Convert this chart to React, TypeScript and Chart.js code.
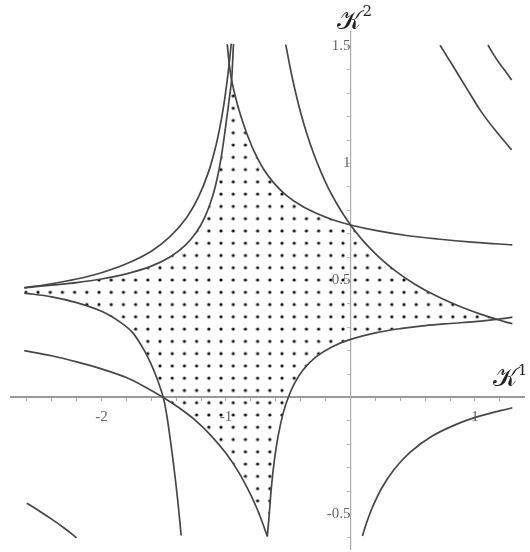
import { useEffect, useRef } from 'react';
import { Chart, registerables } from 'chart.js';

Chart.register(...registerables);

type Pt = [number, number];

// ---- boundary arcs of the dotted region (traversed clockwise) ----
const innerLeftArc: Pt[] = [
  [-2.62, 0.468], [-2.4, 0.48], [-2.2, 0.491], [-2.0, 0.506], [-1.8, 0.528], [-1.6, 0.561],
  [-1.45, 0.6], [-1.33, 0.649], [-1.24, 0.705], [-1.17, 0.771], [-1.11, 0.856], [-1.07, 0.938],
  [-1.04, 1.022], [-1.015, 1.11], [-0.995, 1.19], [-0.975, 1.27], [-0.955, 1.357],
];
const upperRightArc: Pt[] = [
  [-0.955, 1.357], [-0.915, 1.265], [-0.87, 1.185], [-0.82, 1.11], [-0.77, 1.047], [-0.7, 0.977],
  [-0.62, 0.919], [-0.52, 0.866], [-0.4, 0.821], [-0.27, 0.786], [-0.13, 0.757], [0, 0.737],
];
const steepArc: Pt[] = [
  [0, 0.737], [0.1, 0.67], [0.22, 0.604], [0.36, 0.541], [0.52, 0.483], [0.7, 0.431],
  [0.9, 0.384], [1.05, 0.355], [1.174, 0.334],
];
const lowerRightArc: Pt[] = [
  [1.174, 0.334], [1.0, 0.324], [0.8, 0.316], [0.6, 0.307], [0.4, 0.294], [0.2, 0.276],
  [0.0, 0.248], [-0.15, 0.216], [-0.28, 0.172], [-0.38, 0.118], [-0.45, 0.06], [-0.5, 0.0],
  [-0.54, -0.066], [-0.58, -0.161], [-0.61, -0.263], [-0.635, -0.382], [-0.655, -0.515],
  [-0.668, -0.594],
];
const lowerLeftSteepArc: Pt[] = [
  [-0.668, -0.594], [-0.71, -0.531], [-0.76, -0.464], [-0.82, -0.396], [-0.9, -0.318],
  [-1.0, -0.239], [-1.12, -0.163], [-1.25, -0.096], [-1.38, -0.043], [-1.504, 0],
];
const lowerLeftArc: Pt[] = [
  [-1.504, 0], [-1.557, 0.085], [-1.6, 0.14], [-1.65, 0.195], [-1.75, 0.277], [-1.85, 0.322],
  [-2.0, 0.368], [-2.2, 0.405], [-2.4, 0.43], [-2.62, 0.446],
];

// ---- continuations of the same curves outside the region ----
const innerLeftTail: Pt[] = [[-0.955, 1.357], [-0.947, 1.43], [-0.94, 1.51]];
const upperRightHead: Pt[] = [[-0.99, 1.51], [-0.975, 1.43], [-0.955, 1.357]];
const upperRightTail: Pt[] = [[0, 0.737], [0.2, 0.714], [0.45, 0.692], [0.7, 0.677], [1.0, 0.663], [1.3, 0.652]];
const steepHead: Pt[] = [
  [-0.52, 1.508], [-0.48, 1.397], [-0.44, 1.301], [-0.4, 1.217], [-0.35, 1.126], [-0.3, 1.048],
  [-0.24, 0.967], [-0.18, 0.897], [-0.1, 0.819], [-0.05, 0.776], [0, 0.737],
];
const steepTail: Pt[] = [[1.174, 0.334], [1.25, 0.322], [1.3, 0.315]];
const lowerRightHead: Pt[] = [[1.3, 0.343], [1.24, 0.338], [1.174, 0.334]];
const lowerLeftSteepTail: Pt[] = [
  [-1.504, 0], [-1.65, 0.045], [-1.8, 0.085], [-2.0, 0.122], [-2.2, 0.152], [-2.4, 0.178], [-2.62, 0.2],
];
const lowerLeftDrop: Pt[] = [
  [-1.36, -0.59], [-1.38, -0.48], [-1.4, -0.38], [-1.425, -0.27], [-1.45, -0.17], [-1.476, -0.075], [-1.504, 0],
];

// ---- separate curves ----
const outerLeftCurve: Pt[] = [
  [-2.62, 0.469], [-2.4, 0.486], [-2.2, 0.506], [-2.0, 0.533], [-1.8, 0.571], [-1.6, 0.625],
  [-1.45, 0.687], [-1.32, 0.766], [-1.22, 0.858], [-1.14, 0.964], [-1.08, 1.078], [-1.04, 1.18],
  [-1.01, 1.277], [-0.985, 1.377], [-0.965, 1.474], [-0.958, 1.512],
];
const upperRightCurve: Pt[] = [[0.719, 1.505], [0.826, 1.414], [0.933, 1.321], [1.04, 1.229], [1.15, 1.15], [1.294, 1.058]];
const cornerCurve: Pt[] = [[1.104, 1.506], [1.15, 1.465], [1.2, 1.425], [1.25, 1.39], [1.294, 1.357]];
const lowerLeftCurve: Pt[] = [[-2.6, -0.452], [-2.5, -0.485], [-2.4, -0.52], [-2.3, -0.558], [-2.2, -0.6]];
const lowerRightCurve: Pt[] = [
  [0.096, -0.592], [0.13, -0.534], [0.18, -0.465], [0.25, -0.388], [0.35, -0.308], [0.48, -0.234],
  [0.65, -0.167], [0.85, -0.115], [1.05, -0.078], [1.3, -0.044],
];

// ---- axes ----
const xRange: Pt = [-2.73, 1.4];
const yRange: Pt = [-0.649, 1.563];
const xTickLabels = [-2, -1, 1];
const yTickLabels = [-0.5, 0.5, 1, 1.5];
const xAxisTitle = { main: '\u{1D4A6}', sup: '1' };
const yAxisTitle = { main: '\u{1D4A6}', sup: '2' };

function chain(...arcs: Pt[][]): Pt[] {
  const out: Pt[] = [];
  for (const arc of arcs) {
    for (const p of arc) {
      const last = out[out.length - 1];
      if (last && last[0] === p[0] && last[1] === p[1]) continue;
      out.push(p);
    }
  }
  return out;
}

const toXY = (pts: Pt[]) => pts.map(([x, y]) => ({ x, y }));

const INK = '#474747';
const TICK_FONT = { family: "'Liberation Serif', serif", size: 15 };

export default function App() {
  const canvasRef = useRef<HTMLCanvasElement | null>(null);

  useEffect(() => {
    const canvas = canvasRef.current;
    if (!canvas) return;
    const ctx = canvas.getContext('2d')!;

    // dot fill used inside the region
    const tile = document.createElement('canvas');
    tile.width = 12;
    tile.height = 12;
    const tctx = tile.getContext('2d')!;
    tctx.fillStyle = '#111';
    tctx.beginPath();
    tctx.arc(6, 6, 1.6, 0, Math.PI * 2);
    tctx.fill();
    const dots = ctx.createPattern(tile, 'repeat')!;
    const dotAnchor = { x: -1.53, y: 0.4496 };
    const dotPitch = { x: 12.2, y: 12.27 };

    const region = chain(innerLeftArc, upperRightArc, steepArc, lowerRightArc, lowerLeftSteepArc, lowerLeftArc);

    const curve = (pts: Pt[]) => ({
      data: toXY(pts),
      borderColor: INK,
      borderWidth: 1.7,
      pointRadius: 0,
      fill: false,
      tension: 0.35,
      order: 0,
    });

    const dotPlugin = {
      id: 'dotAnchor',
      beforeDatasetsDraw(chart: any) {
        const { x, y } = chart.scales;
        const px = x.getPixelForValue(dotAnchor.x);
        const py = y.getPixelForValue(dotAnchor.y);
        dots.setTransform(
          new DOMMatrix()
            .translate(px - dotPitch.x / 2, py - dotPitch.y / 2)
            .scale(dotPitch.x / 12, dotPitch.y / 12),
        );
      },
    };

    const titlePlugin = {
      id: 'axisTitles',
      afterDraw(chart: any) {
        const { x, y } = chart.scales;
        const c = chart.ctx;
        c.save();
        c.fillStyle = '#222';
        c.textBaseline = 'alphabetic';
        const x0 = x.getPixelForValue(0);
        const y0 = y.getPixelForValue(0);
        // vertical axis title
        c.font = "26px 'DejaVu Serif', serif";
        c.fillText(yAxisTitle.main, x0 - 13, y.top - 3);
        const w2 = c.measureText(yAxisTitle.main).width;
        c.font = "15px 'DejaVu Serif', serif";
        c.fillText(yAxisTitle.sup, x0 - 13 + w2 + 1, y.top - 16);
        // horizontal axis title
        c.font = "26px 'DejaVu Serif', serif";
        c.fillText(xAxisTitle.main, x.right - 32, y0 - 11);
        const w1 = c.measureText(xAxisTitle.main).width;
        c.font = "15px 'DejaVu Serif', serif";
        c.fillText(xAxisTitle.sup, x.right - 32 + w1 + 1, y0 - 22);
        c.restore();
      },
    };

    const chart = new Chart(ctx, {
      type: 'line',
      data: {
        datasets: [
          {
            data: toXY(region),
            borderWidth: 0,
            borderColor: 'rgba(0,0,0,0)',
            backgroundColor: dots,
            pointRadius: 0,
            fill: 'shape',
            tension: 0,
            order: 5,
          },
          curve(outerLeftCurve),
          curve(chain(innerLeftArc, innerLeftTail)),
          curve(chain(upperRightHead, upperRightArc, upperRightTail)),
          curve(chain(steepHead, steepArc, steepTail)),
          curve(chain(lowerRightHead, lowerRightArc)),
          curve(chain(lowerLeftSteepArc, lowerLeftSteepTail)),
          curve(chain(lowerLeftDrop, lowerLeftArc)),
          curve(upperRightCurve),
          curve(cornerCurve),
          curve(lowerLeftCurve),
          curve(lowerRightCurve),
        ] as any,
      },
      options: {
        animation: false,
        responsive: false,
        devicePixelRatio: 1,
        events: [],
        layout: { padding: { left: 10.6, right: 5.2, top: 31.7, bottom: 2.7 } },
        plugins: { legend: { display: false }, tooltip: { enabled: false } },
        scales: {
          x: {
            type: 'linear',
            min: xRange[0],
            max: xRange[1],
            position: { y: 0 } as any,
            afterFit(s: any) {
              s.height = 0;
              s.paddingLeft = 0;
              s.paddingRight = 0;
            },
            border: { color: '#999', width: 2 },
            grid: { drawOnChartArea: false, drawTicks: true, tickLength: 3, color: '#aaa' },
            ticks: {
              stepSize: 0.2,
              includeBounds: false,
              autoSkip: false,
              maxRotation: 0,
              padding: 8,
              color: '#666',
              font: TICK_FONT,
              callback: (v: any) => {
                const r = Math.round(Number(v) * 10) / 10;
                return xTickLabels.includes(r) ? String(r) : '';
              },
            },
          },
          y: {
            type: 'linear',
            min: yRange[0],
            max: yRange[1],
            position: { x: 0 } as any,
            afterFit(s: any) {
              s.width = 0;
              s.paddingTop = 0;
              s.paddingBottom = 0;
            },
            border: { color: '#aaa', width: 1.2 },
            grid: { drawOnChartArea: false, drawTicks: true, tickLength: 3, color: '#bbb' },
            ticks: {
              stepSize: 0.1,
              includeBounds: false,
              autoSkip: false,
              padding: 2,
              color: '#666',
              font: TICK_FONT,
              callback: (v: any) => {
                const r = Math.round(Number(v) * 10) / 10;
                return yTickLabels.includes(r) ? String(r) : '';
              },
            },
          },
        },
      },
      plugins: [dotPlugin, titlePlugin],
    });

    return () => chart.destroy();
  }, []);

  return (
    <div style={{ position: 'fixed', left: 0, top: 0, width: 530, height: 552, background: '#fff' }}>
      <canvas ref={canvasRef} width={530} height={552} style={{ display: 'block' }} />
    </div>
  );
}
